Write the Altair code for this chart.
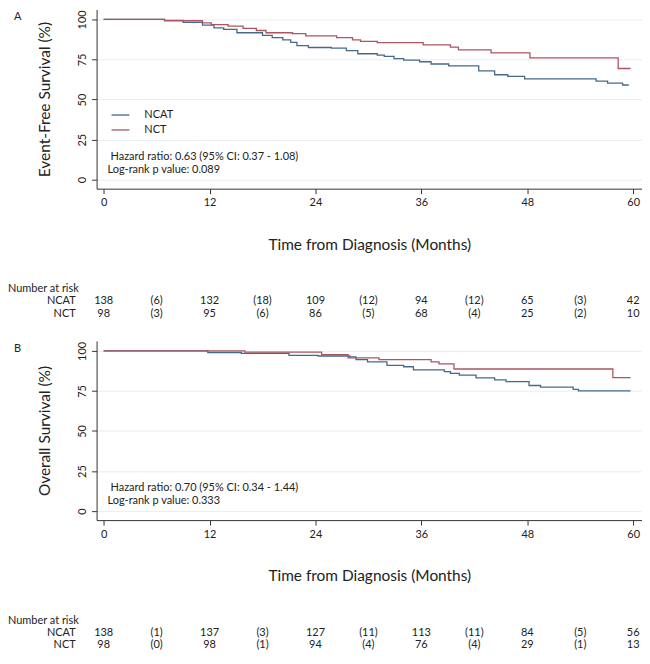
import altair as alt
import pandas as pd

FONT = "Lato"
BLUE = "#44698c"
RED = "#ab5560"
GROUPS = ["NCAT", "NCT"]

# ---- Panel A: event-free survival (months, %)
efs_ncat_t = [0, 6.9, 9.0, 11.2, 12.5, 13.6, 15.1, 18.0, 19.1, 20.3, 21.2, 21.9, 23.2,
              25.8, 27.5, 28.8, 31.0, 31.8, 32.9, 34.0, 35.8, 37.1, 39.1, 42.5, 44.3,
              45.8, 47.7, 55.8, 57.1, 58.8, 59.5]
efs_ncat_s = [100, 99.4, 98.2, 96.4, 94.8, 93.8, 91.7, 90.1, 88.7, 87.3, 85.7, 83.7, 82.5,
              82.1, 80.6, 78.6, 77.8, 77.0, 75.6, 74.6, 73.6, 72.2, 71.0, 67.9, 65.5,
              64.5, 62.9, 61.5, 60.3, 59.1, 59.1]
efs_nct_t = [0, 6.9, 11.2, 12.2, 14.1, 15.8, 17.3, 18.4, 21.4, 22.9, 26.4, 28.2, 29.1,
             31.0, 36.2, 39.3, 40.2, 43.9, 48.3, 58.3, 59.7]
efs_nct_s = [100, 99.2, 97.8, 96.8, 95.8, 94.4, 93.1, 91.7, 91.1, 89.7, 88.7, 87.3, 86.3,
             85.5, 84.1, 82.7, 81.0, 79.2, 76.0, 69.4, 69.4]

# ---- Panel B: overall survival (months, %)
os_ncat_t = [0, 11.8, 15.6, 21.0, 24.3, 27.9, 28.6, 29.9, 32.1, 34.0, 35.1, 38.6, 39.3,
             40.3, 42.2, 44.3, 45.6, 48.2, 49.5, 53.2, 53.8, 59.7]
os_ncat_s = [100, 99.0, 98.4, 97.2, 96.8, 96.2, 94.6, 93.1, 90.9, 90.1, 88.1, 87.1, 85.9,
             84.9, 83.1, 81.9, 80.8, 78.4, 77.4, 76.0, 75.0, 75.0]
os_nct_t = [0, 16.0, 24.7, 27.7, 31.2, 37.1, 38.0, 39.7, 57.7, 59.7]
os_nct_s = [100, 99.2, 97.6, 95.6, 94.6, 93.1, 91.9, 88.7, 83.3, 83.3]

# ---- Numbers at risk
risk_months = [0, 6, 12, 18, 24, 30, 36, 42, 48, 54, 60]
risk_efs_ncat = ["138", "(6)", "132", "(18)", "109", "(12)", "94", "(12)", "65", "(3)", "42"]
risk_efs_nct = ["98", "(3)", "95", "(6)", "86", "(5)", "68", "(4)", "25", "(2)", "10"]
risk_os_ncat = ["138", "(1)", "137", "(3)", "127", "(11)", "113", "(11)", "84", "(5)", "56"]
risk_os_nct = ["98", "(0)", "98", "(1)", "94", "(4)", "76", "(4)", "29", "(1)", "13"]

x_ticks = [0, 12, 24, 36, 48, 60]
y_ticks = [0, 25, 50, 75, 100]

W = 548
H = 180


def curves(t1, s1, t2, s2):
    return pd.concat([
        pd.DataFrame({"month": t1, "surv": s1, "group": "NCAT"}),
        pd.DataFrame({"month": t2, "surv": s2, "group": "NCT"}),
    ])


def panel(letter, ytitle, df, r_ncat, r_nct, hr, pv):
    xs = alt.Scale(domain=[-0.8, 61], nice=False, zero=False)
    ys = alt.Scale(domain=[-5.6, 106.2], nice=False, zero=False)
    lines = alt.Chart(df).mark_line(interpolate="step-after", strokeWidth=1.3).encode(
        x=alt.X("month:Q", scale=xs,
                axis=alt.Axis(values=x_ticks, title="Time from Diagnosis (Months)",
                              grid=False, titlePadding=30, labelPadding=3)),
        y=alt.Y("surv:Q", scale=ys,
                axis=alt.Axis(values=y_ticks, title=ytitle, grid=True, labelAngle=270,
                              labelPadding=4, titlePadding=24)),
        color=alt.Color("group:N",
                        scale=alt.Scale(domain=GROUPS, range=[BLUE, RED]),
                        legend=alt.Legend(title=None, orient="none", legendX=14, legendY=96,
                                          symbolType="stroke", symbolSize=324,
                                          symbolStrokeWidth=1.3, labelFontSize=11,
                                          labelFont=FONT, labelOffset=14, rowPadding=0,
                                          labelColor="#222")),
        order="month:Q",
    )
    one = pd.DataFrame({"a": [0]})
    base_txt = dict(font=FONT, fontSize=11, color="#222")
    letter_t = alt.Chart(one).mark_text(text=letter, align="left", baseline="middle",
                                        **base_txt).encode(x=alt.value(-83), y=alt.value(8))
    hr_t = alt.Chart(one).mark_text(text=hr, align="left", baseline="middle",
                                    **base_txt).encode(x=alt.value(14), y=alt.value(148))
    pv_t = alt.Chart(one).mark_text(text=pv, align="left", baseline="middle",
                                    **base_txt).encode(x=alt.value(11), y=alt.value(161))
    header = alt.Chart(one).mark_text(text="Number at risk", align="left", baseline="middle",
                                      **base_txt).encode(x=alt.value(-89), y=alt.value(H + 101))
    lab1 = alt.Chart(one).mark_text(text="NCAT", align="right", baseline="middle",
                                    **base_txt).encode(x=alt.value(-21), y=alt.value(H + 113))
    lab2 = alt.Chart(one).mark_text(text="NCT", align="right", baseline="middle",
                                    **base_txt).encode(x=alt.value(-21), y=alt.value(H + 125.5))
    r1 = alt.Chart(pd.DataFrame({"month": risk_months, "n": r_ncat})).mark_text(
        align="center", baseline="middle", **base_txt).encode(
        x=alt.X("month:Q", scale=xs), y=alt.value(H + 113), text="n:N")
    r2 = alt.Chart(pd.DataFrame({"month": risk_months, "n": r_nct})).mark_text(
        align="center", baseline="middle", **base_txt).encode(
        x=alt.X("month:Q", scale=xs), y=alt.value(H + 125.5), text="n:N")
    return alt.layer(lines, letter_t, hr_t, pv_t, header, lab1, lab2, r1, r2).properties(
        width=W, height=H)


pa = panel("A", "Event-Free Survival (%)", curves(efs_ncat_t, efs_ncat_s, efs_nct_t, efs_nct_s),
           risk_efs_ncat, risk_efs_nct,
           "Hazard ratio: 0.63 (95% CI: 0.37 - 1.08)", "Log-rank p value: 0.089")
pb = panel("B", "Overall Survival (%)", curves(os_ncat_t, os_ncat_s, os_nct_t, os_nct_s),
           risk_os_ncat, risk_os_nct,
           "Hazard ratio: 0.70 (95% CI: 0.34 - 1.44)", "Log-rank p value: 0.333")

chart = alt.vconcat(pa, pb, spacing=22).properties(padding=0).configure_view(
    stroke=None).configure_axis(
    domainColor="#333", domainWidth=1, tickColor="#333", tickSize=5,
    labelFont=FONT, labelFontSize=11, labelColor="#222",
    titleFont=FONT, titleFontSize=15.5, titleFontWeight="normal", titleColor="#222",
    gridColor="#e6edf2", gridWidth=1)

chart.save("out.html", embed_options={"renderer": "svg", "actions": False})
